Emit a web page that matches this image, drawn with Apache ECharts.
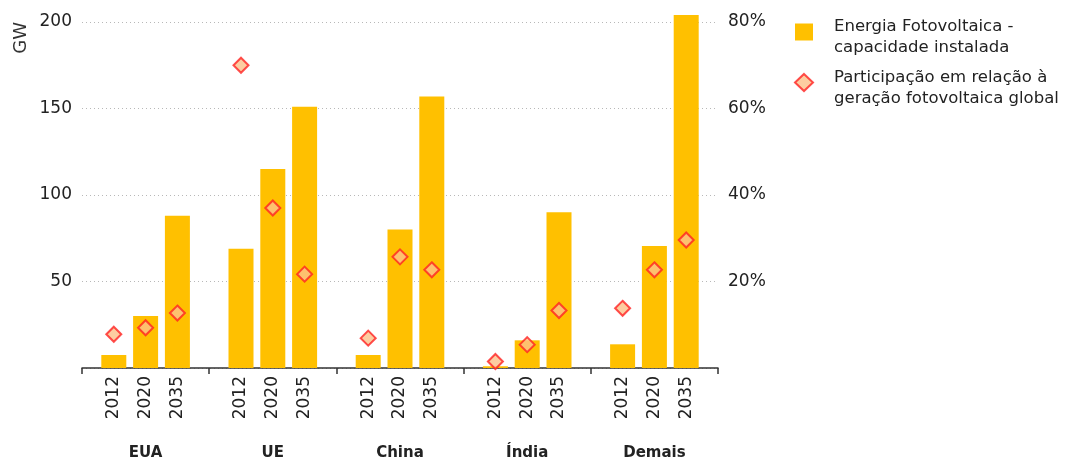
<!DOCTYPE html>
<html>
<head>
<meta charset="utf-8">
<script src="https://cdn.jsdelivr.net/npm/echarts@6/dist/echarts.min.js"></script>
<style>html,body{margin:0;padding:0;background:#fff}#c{width:1065px;height:461px}</style>
</head>
<body>
<div id="c"></div>
<script>
// ---- data ----
var regions = ['EUA', 'UE', 'China', 'Índia', 'Demais'];
var years = ['2012', '2020', '2035'];
// Installed PV capacity (GW) per region, for 2012 / 2020 / 2035
var capEUA = [7.5, 30, 88];
var capUE = [69, 115, 151];
var capChina = [7.5, 80, 157];
var capIndia = [1, 16, 90];
var capDemais = [13.7, 70.5, 204];
// Share of global PV generation (%) per region, for 2012 / 2020 / 2035
var shareEUA = [7.8, 9.3, 12.7];
var shareUE = [70, 37, 21.7];
var shareChina = [6.9, 25.7, 22.7];
var shareIndia = [1.5, 5.4, 13.3];
var shareDemais = [13.8, 22.7, 29.6];
var leftTicks = [0, 200, 50];   // min, max, interval (GW)
var rightTicks = [0, 80, 20];   // min, max, interval (%)
var barName = 'Energia Fotovoltaica -\ncapacidade instalada';
var dotName = 'Participação em relação à\ngeração fotovoltaica global';

// ---- build slot axis: each region = boundary slot + 3 year slots ----
var caps = [capEUA, capUE, capChina, capIndia, capDemais];
var shares = [shareEUA, shareUE, shareChina, shareIndia, shareDemais];
var slotLabels = [], barData = [], dotData = [];
regions.forEach(function (r, g) {
  slotLabels.push(''); barData.push(null); dotData.push(null);
  years.forEach(function (y, k) {
    slotLabels.push(y);
    barData.push(caps[g][k]);
    dotData.push(shares[g][k]);
  });
});
slotLabels.push(''); barData.push(null); dotData.push(null);

var FONT = 'DejaVu Sans';
var chart = echarts.init(document.getElementById('c'));
chart.setOption({
  animation: false,
  backgroundColor: '#ffffff',
  textStyle: { fontFamily: FONT },
  grid: { left: 82, right: 347, top: 22, bottom: 93 },
  legend: {
    orient: 'vertical',
    left: 794,
    top: 7,
    padding: 0,
    itemGap: 1,
    itemWidth: 18,
    itemHeight: 17,
    formatter: function (name) {
      return '{s| }\n{a|' + name.split('\n').join('}\n{a|') + '}';
    },
    textStyle: {
      fontFamily: FONT, fontSize: 16.5, color: '#222', padding: [0, 0, 0, 16],
      rich: {
        s: { fontSize: 8, lineHeight: 11 },
        a: { fontFamily: FONT, fontSize: 16.5, color: '#222', lineHeight: 21 }
      }
    },
    data: [
      { name: barName, icon: 'rect' },
      { name: dotName, icon: 'diamond' }
    ]
  },
  graphic: [{
    type: 'text', left: 12, top: 22, rotation: Math.PI / 2,
    style: { text: 'GW', fontFamily: FONT, fontSize: 18, fill: '#333' }
  }],
  xAxis: [{
    type: 'category',
    data: slotLabels,
    boundaryGap: false,
    position: 'bottom',
    axisLine: { show: false },
    axisTick: { show: false },
    axisLabel: { interval: 0, rotate: 90, margin: 8, fontFamily: FONT, fontSize: 17, color: '#222' }
  }, {
    type: 'category',
    data: regions,
    boundaryGap: true,
    position: 'bottom',
    axisLine: { show: true, lineStyle: { color: '#333', width: 1.5 } },
    axisTick: { show: true, interval: 0, length: 6, lineStyle: { color: '#333', width: 1.5 } },
    axisLabel: { interval: 0, margin: 78, fontFamily: FONT, fontSize: 15, fontWeight: 'bold', color: '#222' }
  }],
  yAxis: [{
    type: 'value',
    min: leftTicks[0], max: leftTicks[1], interval: leftTicks[2],
    axisLine: { show: false },
    axisTick: { show: false },
    axisLabel: { showMinLabel: false, margin: 10, fontFamily: FONT, fontSize: 17, color: '#222' },
    splitLine: { show: true, lineStyle: { color: '#b8b8b8', type: [1, 3], width: 1 } }
  }, {
    type: 'value',
    min: rightTicks[0], max: rightTicks[1], interval: rightTicks[2],
    position: 'right',
    axisLine: { show: false },
    axisTick: { show: false },
    axisLabel: { showMinLabel: false, margin: 10, formatter: '{value}%', fontFamily: FONT, fontSize: 17, color: '#222' },
    splitLine: { show: false }
  }],
  series: [{
    name: barName,
    type: 'bar',
    xAxisIndex: 0, yAxisIndex: 0,
    data: barData,
    barWidth: 25,
    clip: false,
    itemStyle: { color: '#FFC000' }
  }, {
    name: dotName,
    type: 'scatter',
    xAxisIndex: 0, yAxisIndex: 1,
    data: dotData,
    symbol: 'diamond',
    symbolSize: 15,
    z: 5,
    itemStyle: { color: '#FCC08A', borderColor: '#FF2222', borderWidth: 2 }
  }]
});
</script>
</body>
</html>
